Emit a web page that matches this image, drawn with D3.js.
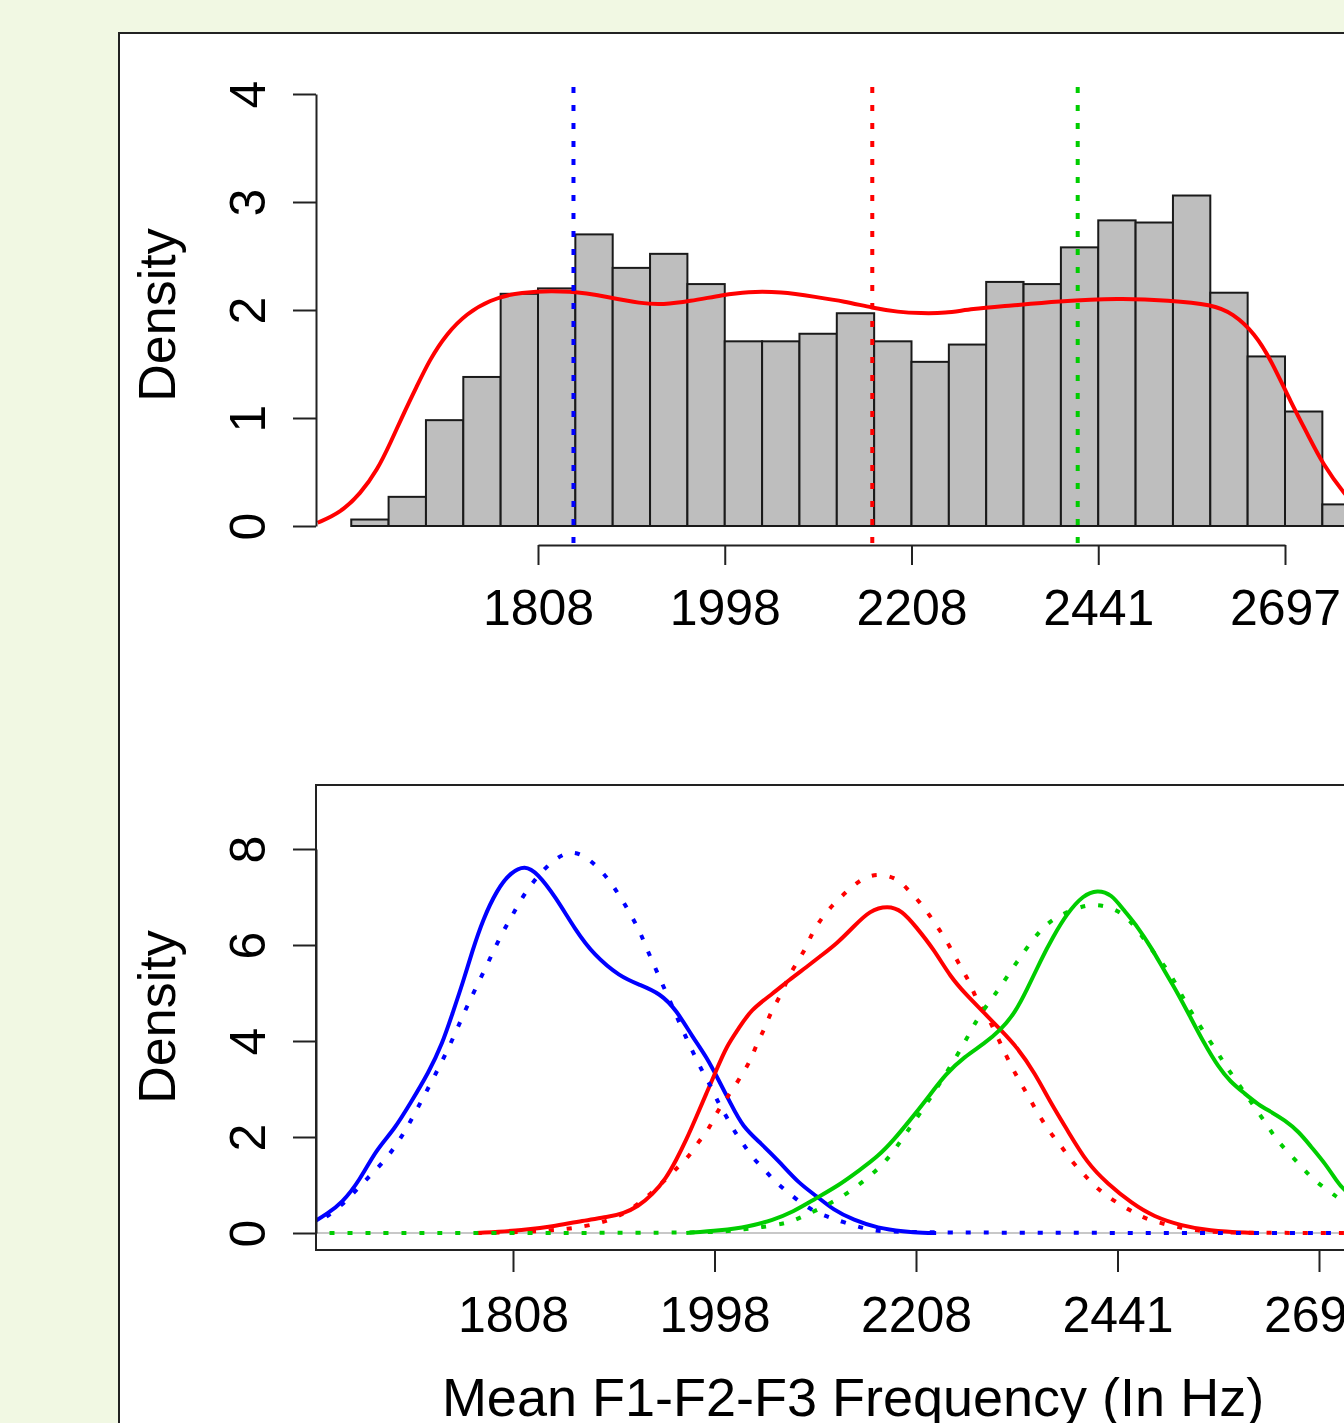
<!DOCTYPE html>
<html>
<head>
<meta charset="utf-8">
<script src="https://cdn.jsdelivr.net/npm/d3@7"></script>
<style>
  html, body { margin: 0; padding: 0; background: #f1f8e3; overflow: hidden; }
  svg { display: block; }
  text { font-family: "Liberation Sans", Arial, sans-serif; fill: #000; }
</style>
</head>
<body>
<script>
// x values are log(Hz); the axis shows them back as Hz
var tickLogHz = [7.5, 7.6, 7.7, 7.8, 7.9]
var tickLabels = ["1808", "1998", "2208", "2441", "2697"]

// top panel: histogram of all tokens
var histBreaks = [7.40, 7.42, 7.44, 7.46, 7.48, 7.50, 7.52, 7.54, 7.56, 7.58, 7.60, 7.62, 7.64, 7.66,
                  7.68, 7.70, 7.72, 7.74, 7.76, 7.78, 7.80, 7.82, 7.84, 7.86, 7.88, 7.90, 7.92, 7.94]
var histDensity = [0.06, 0.27, 0.98, 1.38, 2.15, 2.20, 2.70, 2.39, 2.52, 2.24, 1.71, 1.71, 1.78,
                   1.97, 1.71, 1.52, 1.68, 2.26, 2.24, 2.58, 2.83, 2.81, 3.06, 2.16, 1.57, 1.06, 0.20]

var allKde = [[7.382,0.03],[7.394,0.12],[7.405,0.30],[7.414,0.52],[7.421,0.77],[7.428,1.04],[7.435,1.29],
  [7.442,1.54],[7.451,1.78],[7.462,1.97],[7.474,2.09],[7.489,2.17],[7.519,2.18],[7.537,2.12],[7.555,2.06],
  [7.567,2.05],[7.581,2.08],[7.599,2.14],[7.612,2.17],[7.630,2.17],[7.649,2.12],[7.664,2.08],[7.679,2.02],
  [7.693,1.98],[7.705,1.97],[7.718,1.97],[7.732,2.01],[7.753,2.04],[7.778,2.08],[7.811,2.11],[7.838,2.09],
  [7.861,2.05],[7.872,1.97],[7.884,1.78],[7.893,1.52],[7.903,1.15],[7.913,0.82],[7.920,0.58],[7.932,0.29],
  [7.940,0.15]]

var groupMeans = [7.519, 7.679, 7.789]
var groupColors = ["#0000ff", "#ff0000", "#00cd00"]

// bottom panel: per-group kernel densities (solid) and normal fits (dotted)
var blueKde = [[7.400,0.20],[7.408,0.41],[7.415,0.62],[7.424,1.10],[7.432,1.73],[7.441,2.15],[7.449,2.70],
  [7.458,3.33],[7.465,3.95],[7.470,4.58],[7.475,5.20],[7.480,5.90],[7.485,6.52],[7.492,7.15],[7.499,7.52],
  [7.506,7.66],[7.512,7.50],[7.521,7.01],[7.531,6.31],[7.540,5.80],[7.553,5.34],[7.563,5.17],[7.573,4.99],
  [7.581,4.65],[7.589,4.09],[7.596,3.67],[7.602,3.19],[7.608,2.70],[7.614,2.21],[7.623,1.87],[7.633,1.45],
  [7.642,1.03],[7.651,0.76],[7.659,0.48],[7.669,0.27],[7.681,0.10],[7.694,0.03],[7.704,0.00],[7.710,0.00]]
var blueNormal = [[7.400,0.13],[7.415,0.55],[7.425,1.03],[7.437,1.52],[7.446,2.08],[7.453,2.63],[7.461,3.26],
  [7.470,4.02],[7.477,4.72],[7.486,5.48],[7.494,6.21],[7.499,6.56],[7.506,7.11],[7.516,7.62],[7.523,7.85],
  [7.529,7.96],[7.536,7.85],[7.542,7.62],[7.547,7.39],[7.551,7.15],[7.555,6.88],[7.559,6.59],[7.563,6.28],
  [7.566,5.96],[7.570,5.58],[7.574,5.20],[7.582,4.44],[7.586,4.06],[7.590,3.71],[7.594,3.36],[7.598,3.08],
  [7.602,2.70],[7.606,2.42],[7.610,2.11],[7.614,1.87],[7.619,1.56],[7.625,1.31],[7.630,1.07],[7.635,0.90],
  [7.641,0.69],[7.648,0.48],[7.656,0.34],[7.663,0.24],[7.677,0.05],[7.692,0.00],[7.960,0.00]]

var redKde = [[7.482,0.00],[7.506,0.06],[7.519,0.13],[7.535,0.26],[7.547,0.33],[7.555,0.41],[7.562,0.55],
  [7.569,0.79],[7.576,1.14],[7.581,1.52],[7.586,1.94],[7.591,2.42],[7.596,2.91],[7.601,3.40],[7.606,3.89],
  [7.612,4.26],[7.618,4.65],[7.629,4.99],[7.637,5.27],[7.646,5.55],[7.652,5.75],[7.661,6.04],[7.669,6.38],
  [7.677,6.72],[7.686,6.82],[7.693,6.72],[7.700,6.38],[7.709,5.90],[7.717,5.34],[7.725,4.96],[7.734,4.58],
  [7.742,4.23],[7.750,3.88],[7.759,3.33],[7.767,2.70],[7.775,2.15],[7.785,1.45],[7.795,1.03],[7.807,0.62],
  [7.818,0.34],[7.832,0.15],[7.845,0.05],[7.866,0.00],[7.870,0.00]]
var redNormal = [[7.482,0.00],[7.508,0.02],[7.528,0.08],[7.543,0.20],[7.553,0.35],[7.563,0.62],[7.573,1.00],
  [7.583,1.42],[7.588,1.63],[7.592,1.90],[7.597,2.15],[7.600,2.42],[7.604,2.70],[7.609,2.98],[7.614,3.33],
  [7.618,3.60],[7.621,3.95],[7.625,4.26],[7.628,4.61],[7.633,4.96],[7.636,5.27],[7.640,5.58],[7.645,5.90],
  [7.648,6.21],[7.652,6.49],[7.657,6.76],[7.663,7.01],[7.669,7.25],[7.676,7.44],[7.683,7.48],[7.691,7.38],
  [7.696,7.15],[7.701,6.94],[7.706,6.66],[7.710,6.42],[7.715,6.10],[7.719,5.79],[7.723,5.48],[7.727,5.20],
  [7.730,4.85],[7.735,4.58],[7.743,3.85],[7.747,3.50],[7.751,3.19],[7.755,2.91],[7.759,2.60],[7.763,2.32],
  [7.768,2.01],[7.773,1.76],[7.778,1.45],[7.783,1.24],[7.788,1.00],[7.793,0.83],[7.799,0.65],[7.806,0.48],
  [7.812,0.34],[7.818,0.24],[7.832,0.10],[7.843,0.03],[7.856,0.00],[7.960,0.00]]

var greenKde = [[7.586,0.00],[7.603,0.05],[7.617,0.13],[7.629,0.27],[7.639,0.44],[7.649,0.69],[7.662,1.00],
  [7.672,1.31],[7.681,1.59],[7.689,1.94],[7.697,2.35],[7.705,2.77],[7.715,3.33],[7.724,3.67],[7.734,3.95],
  [7.742,4.23],[7.749,4.58],[7.755,5.06],[7.762,5.69],[7.768,6.17],[7.775,6.66],[7.783,7.04],[7.790,7.15],
  [7.797,7.06],[7.803,6.73],[7.810,6.38],[7.817,5.93],[7.823,5.48],[7.830,4.99],[7.836,4.51],[7.843,3.95],
  [7.850,3.46],[7.856,3.15],[7.863,2.91],[7.870,2.67],[7.876,2.53],[7.883,2.35],[7.890,2.11],[7.896,1.80],
  [7.903,1.45],[7.909,1.07],[7.912,0.90],[7.925,0.50],[7.935,0.30]]
var greenNormal = [[7.400,0.00],[7.590,0.00],[7.605,0.03],[7.615,0.08],[7.623,0.12],[7.636,0.20],[7.642,0.31],
  [7.651,0.48],[7.664,0.76],[7.676,1.14],[7.686,1.52],[7.695,2.08],[7.705,2.67],[7.715,3.33],[7.724,3.95],
  [7.730,4.44],[7.737,4.85],[7.742,5.13],[7.750,5.65],[7.759,6.17],[7.765,6.45],[7.773,6.66],[7.785,6.85],
  [7.793,6.83],[7.802,6.69],[7.809,6.38],[7.818,5.83],[7.826,5.44],[7.833,4.85],[7.841,4.30],[7.850,3.74],
  [7.854,3.46],[7.861,3.05],[7.875,2.20],[7.879,1.94],[7.885,1.66],[7.891,1.40],[7.896,1.16],[7.902,0.96],
  [7.908,0.78],[7.912,0.65],[7.930,0.35],[7.940,0.20]]

var topTicksY = [0, 1, 2, 3, 4]
var bottomTicksY = [0, 2, 4, 6, 8]

var W = 1344, H = 1423

var svg = d3.select("body").append("svg")
  .attr("width", W)
  .attr("height", H)

// white figure area with its frame
svg.append("rect")
  .attr("x", 119).attr("y", 33)
  .attr("width", 1400).attr("height", 1500)
  .attr("fill", "#ffffff")
  .attr("stroke", "#222")
  .attr("stroke-width", 2)

// ---------- top panel ----------
var xTop = d3.scaleLinear().domain([7.5, 7.9]).range([538, 1285])
var yTop = d3.scaleLinear().domain([0, 4]).range([526, 94])

var bins = histDensity.map(function(d, i) {
  return {x0: histBreaks[i], x1: histBreaks[i + 1], y: d}
})

svg.append("g").selectAll("rect")
  .data(bins)
  .enter()
  .append("rect")
  .attr("x", function(d) { return xTop(d.x0) })
  .attr("width", function(d) { return xTop(d.x1) - xTop(d.x0) })
  .attr("y", function(d) { return yTop(d.y) })
  .attr("height", function(d) { return yTop(0) - yTop(d.y) })
  .attr("fill", "#bebebe")
  .attr("stroke", "#1a1a1a")
  .attr("stroke-width", 2)

svg.append("defs").append("clipPath").attr("id", "clipTop")
  .append("rect").attr("x", 316).attr("y", 60).attr("width", 1100).attr("height", 500)

var lineTop = d3.line()
  .x(function(d) { return xTop(d[0]) })
  .y(function(d) { return yTop(d[1]) })
  .curve(d3.curveBasis)

svg.append("path")
  .datum(allKde)
  .attr("clip-path", "url(#clipTop)")
  .attr("d", lineTop)
  .attr("fill", "none")
  .attr("stroke", "#ff0000")
  .attr("stroke-width", 4)

// group means as dotted verticals
svg.append("g").selectAll("line")
  .data(groupMeans)
  .enter()
  .append("line")
  .attr("x1", function(d) { return xTop(d) })
  .attr("x2", function(d) { return xTop(d) })
  .attr("y1", yTop(4.065))
  .attr("y2", yTop(-0.19))
  .attr("stroke", function(d, i) { return groupColors[i] })
  .attr("stroke-width", 4)
  .attr("stroke-dasharray", "6,12")

var yAxisTop = d3.axisLeft(yTop).tickValues(topTicksY).tickFormat(d3.format("d"))
  .tickSize(23).tickSizeOuter(0)
var gYTop = svg.append("g").attr("transform", "translate(316,0)").call(yAxisTop)
styleAxis(gYTop)
gYTop.selectAll("text")
  .attr("transform", "rotate(-90)")
  .attr("x", 0).attr("y", -51).attr("dy", null)
  .attr("text-anchor", "middle")

var xAxisTop = d3.axisBottom(xTop).tickValues(tickLogHz)
  .tickFormat(function(d, i) { return tickLabels[i] })
  .tickSize(20).tickSizeOuter(0)
var gXTop = svg.append("g").attr("transform", "translate(0,545)").call(xAxisTop)
styleAxis(gXTop)
gXTop.selectAll("text").attr("y", 80).attr("dy", null)

svg.append("text")
  .attr("transform", "translate(175,315) rotate(-90)")
  .attr("text-anchor", "middle")
  .attr("font-size", 52)
  .text("Density")

// ---------- bottom panel ----------
var xBot = d3.scaleLinear().domain([7.5, 7.9]).range([513, 1319])
var yBot = d3.scaleLinear().domain([0, 8]).range([1233, 849])

svg.select("defs").append("clipPath").attr("id", "clipBot")
  .append("rect").attr("x", 316).attr("y", 785).attr("width", 1100).attr("height", 465)

var plotBot = svg.append("g").attr("clip-path", "url(#clipBot)")

plotBot.append("line")
  .attr("x1", 316).attr("x2", 1400)
  .attr("y1", yBot(0)).attr("y2", yBot(0))
  .attr("stroke", "#c8c8c8")
  .attr("stroke-width", 2)

var lineBot = d3.line()
  .x(function(d) { return xBot(d[0]) })
  .y(function(d) { return yBot(d[1]) })
  .curve(d3.curveBasis)

var solids = [blueKde, redKde, greenKde]
var dotted = [blueNormal, redNormal, greenNormal]

solids.forEach(function(s, i) {
  plotBot.append("path")
    .datum(s)
    .attr("d", lineBot)
    .attr("fill", "none")
    .attr("stroke", groupColors[i])
    .attr("stroke-width", 4)
})
dotted.forEach(function(s, i) {
  plotBot.append("path")
    .datum(s)
    .attr("d", lineBot)
    .attr("fill", "none")
    .attr("stroke", groupColors[i])
    .attr("stroke-width", 4)
    .attr("stroke-dasharray", "5,13")
})

svg.append("rect")
  .attr("x", 316).attr("y", 785)
  .attr("width", 1200).attr("height", 465)
  .attr("fill", "none")
  .attr("stroke", "#222")
  .attr("stroke-width", 2)

var yAxisBot = d3.axisLeft(yBot).tickValues(bottomTicksY).tickFormat(d3.format("d"))
  .tickSize(23).tickSizeOuter(0)
var gYBot = svg.append("g").attr("transform", "translate(316,0)").call(yAxisBot)
styleAxis(gYBot)
gYBot.selectAll("text")
  .attr("transform", "rotate(-90)")
  .attr("x", 0).attr("y", -51).attr("dy", null)
  .attr("text-anchor", "middle")

var xAxisBot = d3.axisBottom(xBot).tickValues(tickLogHz)
  .tickFormat(function(d, i) { return tickLabels[i] })
  .tickSize(22).tickSizeOuter(0)
var gXBot = svg.append("g").attr("transform", "translate(0,1250)").call(xAxisBot)
styleAxis(gXBot)
gXBot.select(".domain").remove()
gXBot.selectAll("text").attr("y", 82).attr("dy", null)

svg.append("text")
  .attr("transform", "translate(175,1017) rotate(-90)")
  .attr("text-anchor", "middle")
  .attr("font-size", 52)
  .text("Density")

svg.append("text")
  .attr("x", 853).attr("y", 1416)
  .attr("text-anchor", "middle")
  .attr("font-size", 54)
  .text("Mean F1-F2-F3 Frequency (In Hz)")

function styleAxis(g) {
  g.attr("font-size", null).attr("font-family", null)
  g.selectAll("path, line").attr("stroke", "#222").attr("stroke-width", 2)
  g.selectAll("text").attr("font-size", 50).attr("fill", "#000")
}
</script>
</body>
</html>
